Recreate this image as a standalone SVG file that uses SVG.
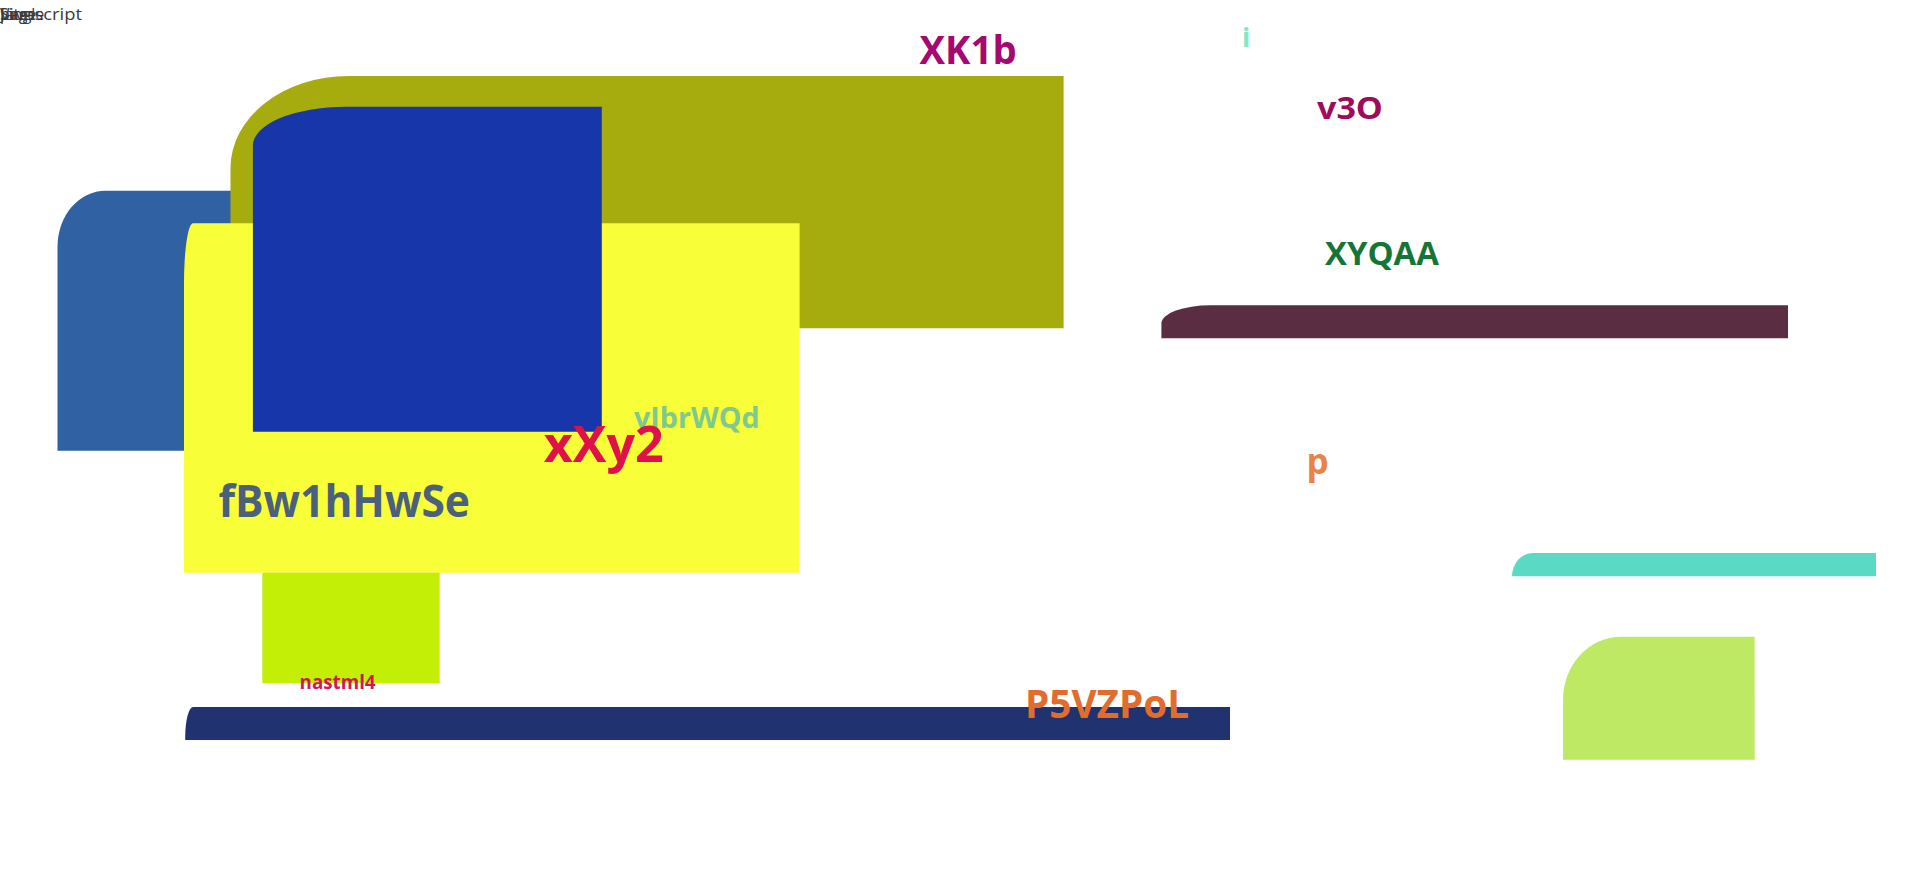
<svg xmlns="http://www.w3.org/2000/svg" width="1920" height="870" viewBox="0 0 1920 870">
<style>
  .lbl { font-family: "Open Sans", "Noto Sans", "Liberation Sans", sans-serif; font-weight: 700; }
  .tiny { font-family: "Open Sans", "Noto Sans", "Liberation Sans", sans-serif; font-size: 16px; fill: #3a3a3a; }
</style>
<rect width="1920" height="870" fill="#ffffff"/>
<g id="header-texts">
  <text class="tiny" x="0" y="20" textLength="82" lengthAdjust="spacingAndGlyphs">Javascript</text>
  <text class="tiny" x="0" y="20">Single</text>
  <text class="tiny" x="0" y="20">page</text>
  <text class="tiny" x="0" y="20">Vite</text>
</g>
<g id="node-steelblue"><path d="M57.5,246.7 A48,56 0 0 1 105.5,190.7 H260 V450.7 H57.5 Z" fill="#3061A3"/></g>
<g id="node-olive"><path d="M230.5,168 A118,92 0 0 1 348.5,76 H1063.6 V328.3 H230.5 Z" fill="#A7AC0E"/></g>
<g id="node-yellow"><path d="M184,283.3 A9,60 0 0 1 193,223.3 H799.6 V572.7 H184 Z" fill="#F8FE38"/></g>
<g id="node-darkblue"><path d="M252.9,145.7 A93,39 0 0 1 345.9,106.7 H601.8 V431.7 H252.9 Z" fill="#1636AA"/></g>
<g id="node-lime"><rect x="262.3" y="572.7" width="177.4" height="110.6" fill="#C2EF05"/></g>
<g id="node-navy"><path d="M185.2,737 A8,30 0 0 1 193.2,707 H1230 V740 H185.2 Z" fill="#213270"/></g>
<g id="node-maroon"><path d="M1161.4,323.3 A49,18 0 0 1 1210.4,305.3 H1788 V338.3 H1161.4 Z" fill="#5A2D43"/></g>
<g id="node-teal"><path d="M1512,576.3 A21,23.3 0 0 1 1533,553 H1876 V576.3 H1512 Z" fill="#5AD9C5"/></g>
<g id="node-lightgreen"><path d="M1563,699.7 A58,63 0 0 1 1621,636.7 H1754.7 V759.7 H1563 Z" fill="#BEE964"/></g>
<g id="connectors"></g>
<g id="labels">
  <text class="lbl" x="919.6" y="64" font-size="40" fill="#A5086E" textLength="97" lengthAdjust="spacingAndGlyphs">XK1b</text>
  <text class="lbl" x="1242" y="46.7" font-size="27" fill="#7EE8C8">i</text>
  <text class="lbl" x="1317" y="119.3" font-size="31" fill="#A00A5A" textLength="66" lengthAdjust="spacingAndGlyphs">v3O</text>
  <text class="lbl" x="1325" y="265" font-size="32" fill="#157537" textLength="114" lengthAdjust="spacingAndGlyphs">XYQAA</text>
  <text class="lbl" x="634" y="427.7" font-size="29" fill="#7DC98F" textLength="125.7" lengthAdjust="spacingAndGlyphs">vIbrWQd</text>
  <text class="lbl" x="543.8" y="461.7" font-size="51" fill="#E0104A" textLength="120" lengthAdjust="spacingAndGlyphs">xXy2</text>
  <text class="lbl" x="218.5" y="516.7" font-size="44" fill="#4B607C" textLength="251.5" lengthAdjust="spacingAndGlyphs">fBw1hHwSe</text>
  <text class="lbl" x="1306.4" y="474" font-size="35" fill="#E8834A">p</text>
  <text class="lbl" x="299.6" y="689.3" font-size="20" fill="#D4145A" textLength="76" lengthAdjust="spacingAndGlyphs">nastml4</text>
  <text class="lbl" x="1025" y="718.3" font-size="39" fill="#E06C2E" textLength="164" lengthAdjust="spacingAndGlyphs">P5VZPoL</text>
</g>
</svg>
